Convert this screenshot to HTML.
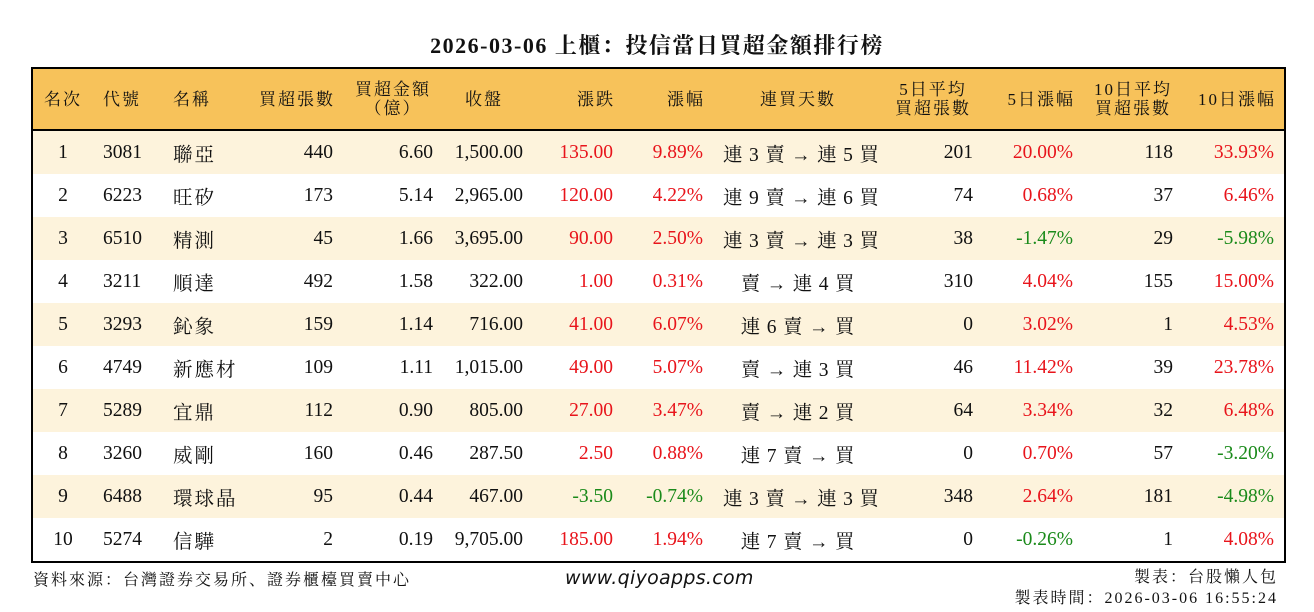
<!DOCTYPE html>
<html><head><meta charset="utf-8"><style>
body{margin:0;width:1314px;height:612px;background:#fff;position:relative;font-family:"Liberation Serif","Noto Serif CJK SC",serif;color:#111;overflow:hidden}
.title{position:absolute;top:29px;left:0;width:1314px;text-align:center;font-size:22px;letter-spacing:1.5px;font-weight:bold}
table{position:absolute;left:31px;top:67px;width:1253px;border:2px solid #000;border-collapse:collapse;table-layout:fixed}
td,th{padding:0 10px;font-size:19.5px;white-space:nowrap}
th{background:#f7c25a;height:60px;font-weight:normal;font-size:17px;letter-spacing:2px;line-height:19px;border-bottom:2px solid #000}
th.r{padding-right:8px}
td{height:43px}
.k{letter-spacing:2px}
.s{letter-spacing:0.8px}
tr.o td{background:#fdf3dc}
.c{text-align:center}.l{text-align:left}.r{text-align:right}
.red{color:#e8141b}.grn{color:#1a8a1a}
.f{position:absolute;font-size:16px;letter-spacing:2px}
</style></head><body>
<div class="title">2026-03-06 上櫃：投信當日買超金額排行榜</div>
<table>
<colgroup><col style="width:61px"><col style="width:70px"><col style="width:70px"><col style="width:110px"><col style="width:100px"><col style="width:90px"><col style="width:90px"><col style="width:90px"><col style="width:170px"><col style="width:100px"><col style="width:100px"><col style="width:100px"><col style="width:102px"></colgroup>
<tr><th class="c">名次</th><th class="l">代號</th><th class="l">名稱</th><th class="r">買超張數</th><th class="c">買超金額<br>（億）</th><th class="r" style="padding-right:30px">收盤</th><th class="r">漲跌</th><th class="r">漲幅</th><th class="c">連買天數</th><th class="c">5日平均<br>買超張數</th><th class="r">5日漲幅</th><th class="c">10日平均<br>買超張數</th><th class="r">10日漲幅</th></tr>
<tr class="o"><td class="c">1</td><td>3081</td><td class="k">聯亞</td><td class="r">440</td><td class="r">6.60</td><td class="r">1,500.00</td><td class="r red">135.00</td><td class="r red">9.89%</td><td class="c s">連 3 賣 → 連 5 買</td><td class="r">201</td><td class="r red">20.00%</td><td class="r">118</td><td class="r red">33.93%</td></tr>
<tr><td class="c">2</td><td>6223</td><td class="k">旺矽</td><td class="r">173</td><td class="r">5.14</td><td class="r">2,965.00</td><td class="r red">120.00</td><td class="r red">4.22%</td><td class="c s">連 9 賣 → 連 6 買</td><td class="r">74</td><td class="r red">0.68%</td><td class="r">37</td><td class="r red">6.46%</td></tr>
<tr class="o"><td class="c">3</td><td>6510</td><td class="k">精測</td><td class="r">45</td><td class="r">1.66</td><td class="r">3,695.00</td><td class="r red">90.00</td><td class="r red">2.50%</td><td class="c s">連 3 賣 → 連 3 買</td><td class="r">38</td><td class="r grn">-1.47%</td><td class="r">29</td><td class="r grn">-5.98%</td></tr>
<tr><td class="c">4</td><td>3211</td><td class="k">順達</td><td class="r">492</td><td class="r">1.58</td><td class="r">322.00</td><td class="r red">1.00</td><td class="r red">0.31%</td><td class="c s">賣 → 連 4 買</td><td class="r">310</td><td class="r red">4.04%</td><td class="r">155</td><td class="r red">15.00%</td></tr>
<tr class="o"><td class="c">5</td><td>3293</td><td class="k">鈊象</td><td class="r">159</td><td class="r">1.14</td><td class="r">716.00</td><td class="r red">41.00</td><td class="r red">6.07%</td><td class="c s">連 6 賣 → 買</td><td class="r">0</td><td class="r red">3.02%</td><td class="r">1</td><td class="r red">4.53%</td></tr>
<tr><td class="c">6</td><td>4749</td><td class="k">新應材</td><td class="r">109</td><td class="r">1.11</td><td class="r">1,015.00</td><td class="r red">49.00</td><td class="r red">5.07%</td><td class="c s">賣 → 連 3 買</td><td class="r">46</td><td class="r red">11.42%</td><td class="r">39</td><td class="r red">23.78%</td></tr>
<tr class="o"><td class="c">7</td><td>5289</td><td class="k">宜鼎</td><td class="r">112</td><td class="r">0.90</td><td class="r">805.00</td><td class="r red">27.00</td><td class="r red">3.47%</td><td class="c s">賣 → 連 2 買</td><td class="r">64</td><td class="r red">3.34%</td><td class="r">32</td><td class="r red">6.48%</td></tr>
<tr><td class="c">8</td><td>3260</td><td class="k">威剛</td><td class="r">160</td><td class="r">0.46</td><td class="r">287.50</td><td class="r red">2.50</td><td class="r red">0.88%</td><td class="c s">連 7 賣 → 買</td><td class="r">0</td><td class="r red">0.70%</td><td class="r">57</td><td class="r grn">-3.20%</td></tr>
<tr class="o"><td class="c">9</td><td>6488</td><td class="k">環球晶</td><td class="r">95</td><td class="r">0.44</td><td class="r">467.00</td><td class="r grn">-3.50</td><td class="r grn">-0.74%</td><td class="c s">連 3 賣 → 連 3 買</td><td class="r">348</td><td class="r red">2.64%</td><td class="r">181</td><td class="r grn">-4.98%</td></tr>
<tr><td class="c">10</td><td>5274</td><td class="k">信驊</td><td class="r">2</td><td class="r">0.19</td><td class="r">9,705.00</td><td class="r red">185.00</td><td class="r red">1.94%</td><td class="c s">連 7 賣 → 買</td><td class="r">0</td><td class="r grn">-0.26%</td><td class="r">1</td><td class="r red">4.08%</td></tr>
</table>
<div class="f" style="left:33px;top:567px">資料來源：台灣證券交易所、證券櫃檯買賣中心</div>
<div class="f" style="left:565px;top:567px;font-family:'DejaVu Sans',sans-serif;font-style:italic;font-size:19px;letter-spacing:0.3px">www.qiyoapps.com</div>
<div class="f" style="right:36px;top:567px;text-align:right;line-height:21px">製表：台股懶人包<br>製表時間：2026-03-06 16:55:24</div>
</body></html>
